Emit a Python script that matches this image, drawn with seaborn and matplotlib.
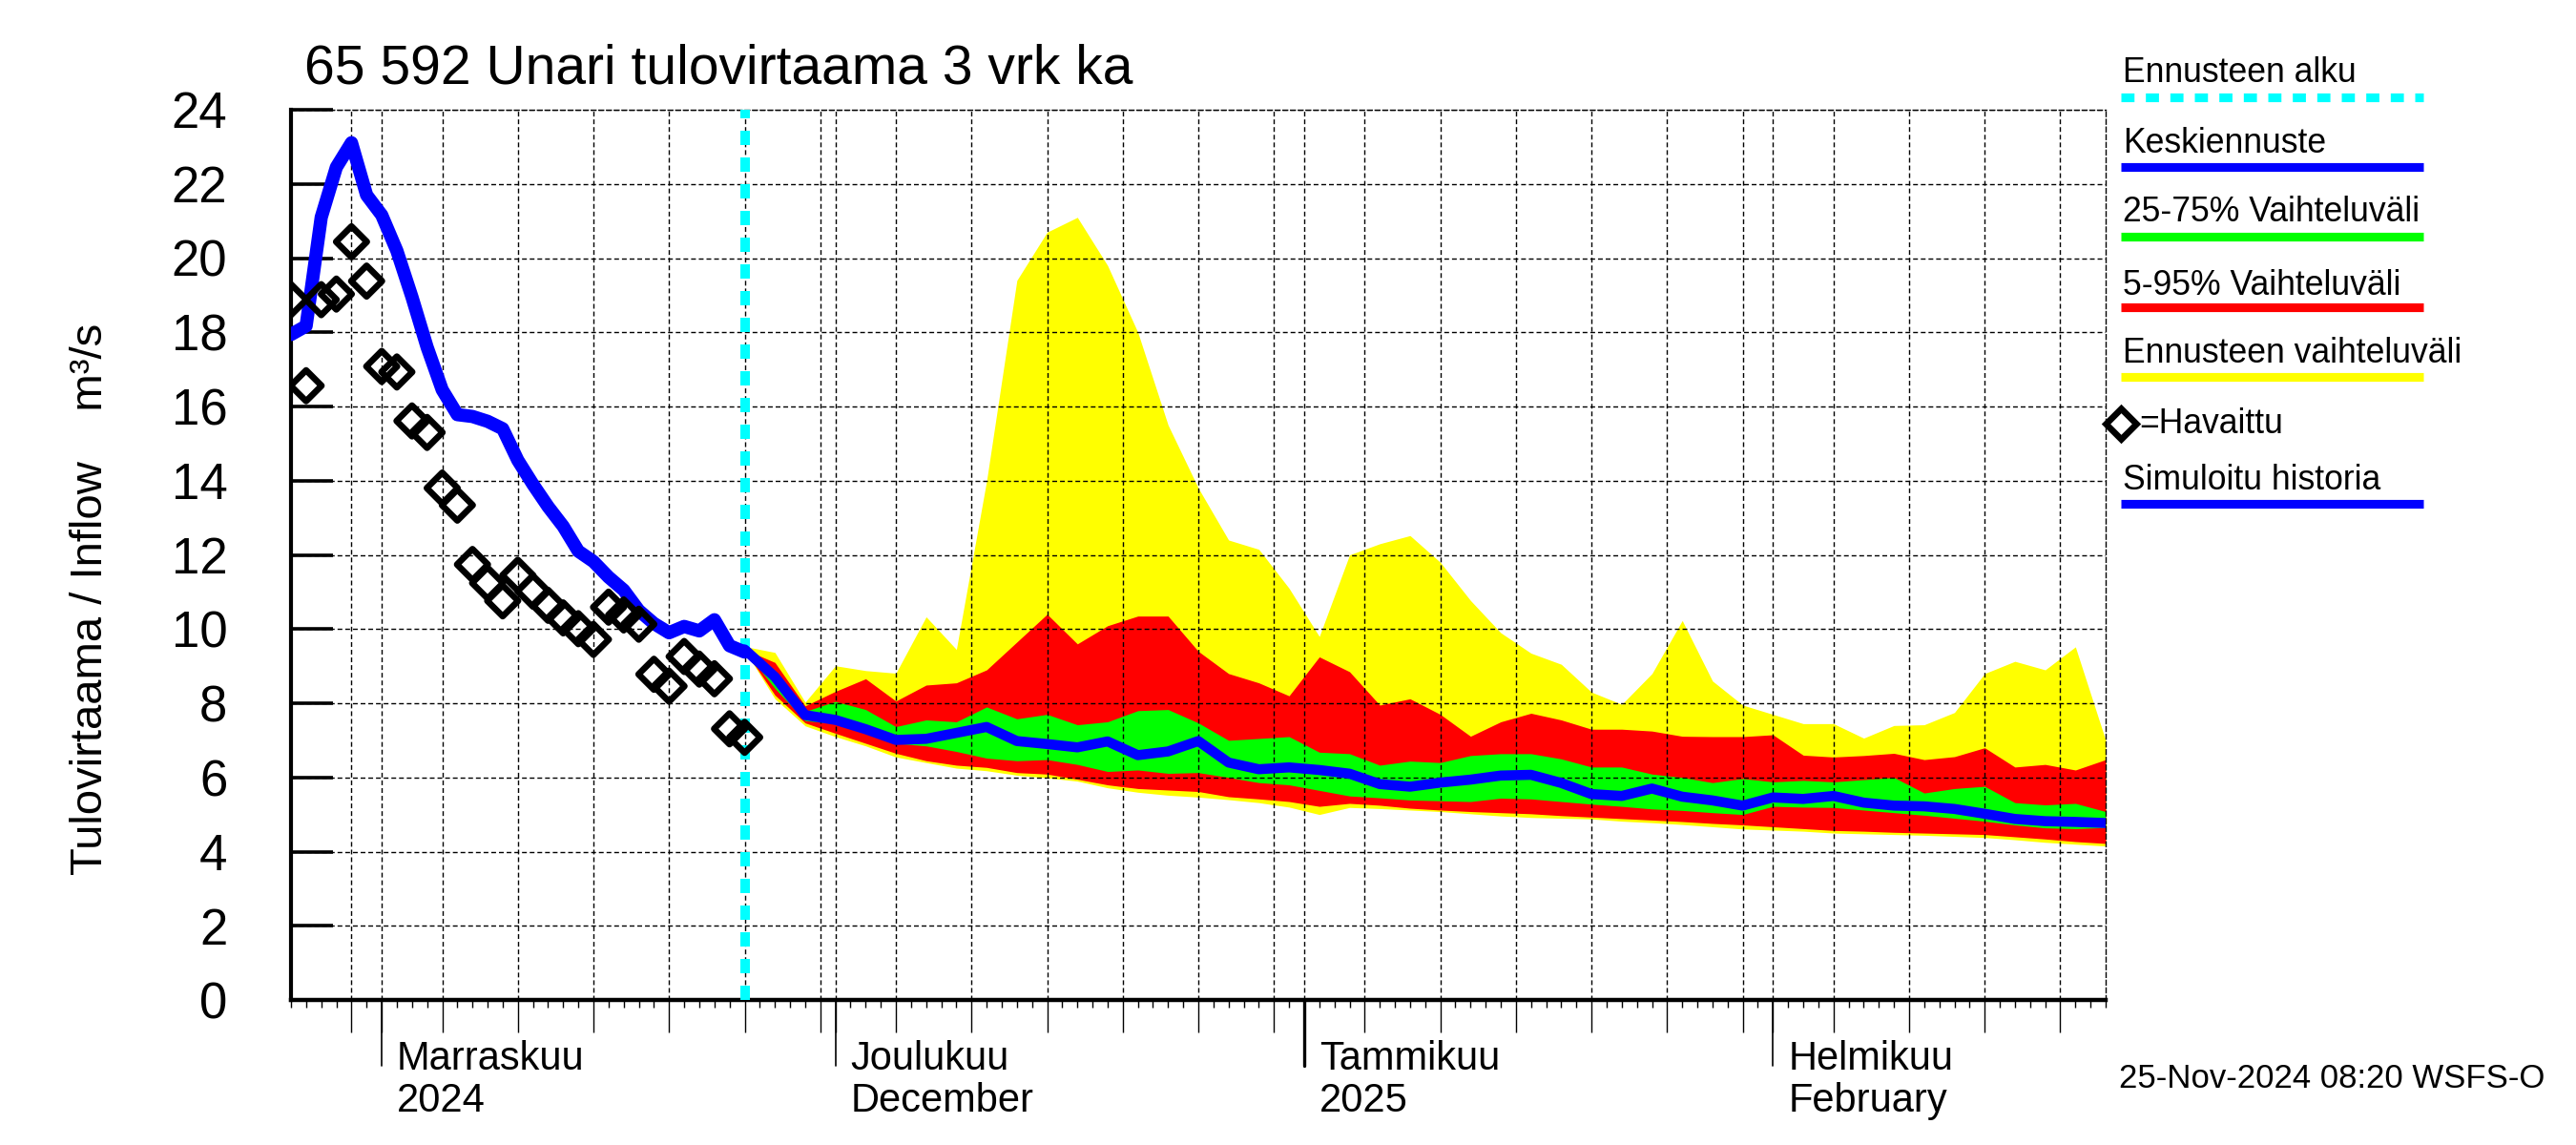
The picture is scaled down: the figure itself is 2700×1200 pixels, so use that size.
import numpy as np
import pandas as pd
import seaborn as sns
import matplotlib
matplotlib.use('Agg')
import matplotlib.pyplot as plt
import matplotlib.dates as mdates
import matplotlib.ticker as mticker
import matplotlib.transforms as mtransforms

# Havainnot ja simuloitu historia (päivittäin 26.10.2024 - 25.11.2024)
hist_alku = '2024-10-26'
havaittu = [18.88, 16.56, 18.88, 19.03, 20.44, 19.38, 17.08, 16.93, 15.61, 15.30,
            13.80, 13.34, 11.74, 11.24, 10.76, 11.45, 11.02, 10.64, 10.30, 10.01,
            9.72, 10.59, 10.38, 10.13, 8.78, 8.46, 9.26, 8.92, 8.66, 7.31, 7.08]
simuloitu = [17.94, 18.17, 21.1, 22.45, 23.11, 21.7, 21.16, 20.2, 18.95, 17.6,
             16.45, 15.78, 15.73, 15.6, 15.4, 14.55, 13.9, 13.3, 12.77, 12.1,
             11.82, 11.4, 11.05, 10.5, 10.15, 9.9, 10.07, 9.95, 10.25, 9.55, 9.38]

# Ennuste (2 vrk välein 25.11.2024 alkaen)
ennuste_alku = '2024-11-25'
keskiennuste = [9.45, 8.71, 7.68, 7.55, 7.30, 7.01, 7.04, 7.20, 7.36, 6.98,
                6.90, 6.81, 6.97, 6.60, 6.70, 6.98, 6.40, 6.22, 6.27, 6.20,
                6.10, 5.82, 5.75, 5.86, 5.94, 6.05, 6.07, 5.85, 5.55, 5.50,
                5.70, 5.48, 5.38, 5.24, 5.46, 5.42, 5.50, 5.32, 5.24, 5.22,
                5.15, 5.02, 4.88, 4.82, 4.80, 4.77]
p75 = [9.47, 8.80, 7.78, 8.05, 7.83, 7.37, 7.55, 7.50, 7.90, 7.58,
       7.70, 7.42, 7.50, 7.80, 7.83, 7.47, 7.00, 7.05, 7.10, 6.68,
       6.64, 6.33, 6.44, 6.40, 6.59, 6.64, 6.64, 6.50, 6.28, 6.28,
       6.09, 6.00, 5.86, 5.97, 5.88, 5.92, 5.88, 5.94, 6.00, 5.58,
       5.70, 5.76, 5.32, 5.26, 5.30, 5.08]
p25 = [9.43, 8.40, 7.53, 7.45, 7.25, 6.92, 6.85, 6.70, 6.52, 6.45,
       6.48, 6.35, 6.16, 6.20, 6.11, 6.13, 6.00, 5.86, 5.80, 5.65,
       5.50, 5.45, 5.39, 5.37, 5.35, 5.44, 5.42, 5.35, 5.28, 5.22,
       5.15, 5.11, 5.05, 5.00, 5.22, 5.20, 5.19, 5.12, 5.05, 4.98,
       4.90, 4.82, 4.72, 4.64, 4.62, 4.65]
p95 = [9.45, 9.10, 7.93, 8.32, 8.66, 8.06, 8.49, 8.55, 8.90, 9.65,
       10.40, 9.60, 10.09, 10.35, 10.35, 9.40, 8.80, 8.55, 8.20, 9.25,
       8.85, 7.95, 8.12, 7.70, 7.11, 7.50, 7.73, 7.55, 7.30, 7.30,
       7.25, 7.11, 7.10, 7.10, 7.15, 6.60, 6.55, 6.59, 6.65, 6.48,
       6.56, 6.80, 6.28, 6.35, 6.20, 6.48]
p5 = [9.43, 8.22, 7.47, 7.19, 6.92, 6.65, 6.45, 6.33, 6.27, 6.13,
      6.09, 5.95, 5.80, 5.70, 5.66, 5.62, 5.48, 5.42, 5.35, 5.22,
      5.30, 5.25, 5.17, 5.12, 5.08, 5.05, 5.02, 4.97, 4.93, 4.89,
      4.85, 4.81, 4.76, 4.72, 4.67, 4.62, 4.57, 4.55, 4.52, 4.50,
      4.48, 4.46, 4.40, 4.34, 4.27, 4.22]
ennuste_max = [9.53, 9.37, 8.03, 9.01, 8.88, 8.81, 10.33, 9.45, 14.0, 19.4,
               20.7, 21.1, 19.8, 18.0, 15.5, 13.8, 12.4, 12.15, 11.1, 9.8,
               12.0, 12.3, 12.52, 11.8, 10.77, 9.9, 9.35, 9.05, 8.3, 7.97,
               8.8, 10.23, 8.6, 7.95, 7.70, 7.45, 7.45, 7.06, 7.40, 7.42,
               7.75, 8.80, 9.13, 8.90, 9.52, 7.00]
ennuste_min = [9.43, 8.12, 7.39, 7.10, 6.85, 6.55, 6.40, 6.25, 6.18, 6.06,
               5.99, 5.90, 5.72, 5.60, 5.52, 5.47, 5.40, 5.32, 5.20, 5.00,
               5.19, 5.16, 5.12, 5.08, 5.02, 4.96, 4.92, 4.90, 4.88, 4.82,
               4.78, 4.73, 4.67, 4.61, 4.58, 4.55, 4.50, 4.48, 4.46, 4.44,
               4.41, 4.38, 4.32, 4.25, 4.20, 4.15]

kuukaudet = ['2024-11-01', '2024-12-01', '2025-01-01', '2025-02-01']
kk_rivi1 = ['Marraskuu', 'Joulukuu', 'Tammikuu', 'Helmikuu']
kk_rivi2 = ['2024', 'December', '2025', 'February']

legend_tekstit = ['Ennusteen alku', 'Keskiennuste', '25-75% Vaihteluväli',
                  '5-95% Vaihteluväli', 'Ennusteen vaihteluväli', '=Havaittu',
                  'Simuloitu historia']

hist_pvm = pd.date_range(hist_alku, periods=len(havaittu), freq='D')
ennuste_pvm = pd.date_range(ennuste_alku, periods=len(keskiennuste), freq='2D')

sns.set_theme(style='white')
plt.rcParams['font.family'] = ['Liberation Sans', 'DejaVu Sans']
for k in ['text.color', 'axes.labelcolor', 'xtick.color', 'ytick.color', 'axes.edgecolor']:
    plt.rcParams[k] = 'black'

SININEN = '#0000ff'
KELTAINEN = '#ffff00'
PUNAINEN = '#ff0000'
VIHREA = '#00ff00'
SYAANI = '#00ffff'

fig = plt.figure(figsize=(13.5, 6), dpi=200)
fig.patch.set_facecolor('white')
ax = fig.add_axes([305 / 2700, 1 - 1048 / 1200, (2207 - 305) / 2700, (1048 - 115) / 1200])
ax.set_facecolor('white')

# Vaihteluvälit
ax.fill_between(ennuste_pvm, ennuste_min, ennuste_max, color=KELTAINEN, lw=0, zorder=1)
ax.fill_between(ennuste_pvm, p5, p95, color=PUNAINEN, lw=0, zorder=1.1)
ax.fill_between(ennuste_pvm, p25, p75, color=VIHREA, lw=0, zorder=1.2)

# Ennusteen alku
ax.axvline(pd.Timestamp(ennuste_alku), color=SYAANI, lw=3.6, ls=(0, (1.5, 1.3)), zorder=3)

# Viivat
sns.lineplot(x=hist_pvm, y=simuloitu, ax=ax, color=SININEN, lw=5.0, zorder=3.2)
sns.lineplot(x=ennuste_pvm, y=keskiennuste, ax=ax, color=SININEN, lw=3.8, zorder=3.2)

# Havainnot
sns.scatterplot(x=hist_pvm, y=havaittu, ax=ax, marker='D', s=68, linewidth=2.4,
                edgecolor='black', zorder=4)
ax.collections[-1].set_facecolor('none')
ax.collections[-1].set_edgecolor('black')

# Akselit
ax.set_xlim(pd.Timestamp('2024-10-26'), pd.Timestamp('2025-02-23'))
ax.set_ylim(0, 24)
ax.set_yticks(range(0, 25, 2))
ax.set_xlabel('')
ax.set_ylabel('')
ax.xaxis.set_major_locator(mdates.DayLocator(bymonthday=[1, 5, 10, 15, 20, 25, 30]))
ax.xaxis.set_minor_locator(mdates.DayLocator())
ax.xaxis.set_major_formatter(mticker.NullFormatter())
ax.tick_params(axis='y', direction='in', length=16, width=1.3, labelsize=19, pad=24,
               colors='black', left=True)
ax.tick_params(axis='x', which='major', direction='out', length=12.2, width=0.5,
               colors='black', bottom=True)
ax.tick_params(axis='x', which='minor', direction='out', length=2.9, width=0.5,
               colors='black', bottom=True)
ax.set_axisbelow(False)
ax.grid(True, which='major', axis='both', color='black', lw=0.5, ls=(0, (3.6, 2.2)))

for s in ['top', 'right']:
    ax.spines[s].set_linestyle((0, (3.6, 2.2)))
    ax.spines[s].set_linewidth(0.5)
ax.spines['left'].set_linewidth(1.5)
ax.spines['bottom'].set_linewidth(1.6)

# Kuukausien merkinnät
sekoitus = mtransforms.blended_transform_factory(ax.transData, ax.transAxes)
for kk, r1, r2 in zip(kuukaudet, kk_rivi1, kk_rivi2):
    t = pd.Timestamp(kk)
    leveys = 1.2 if kk.endswith('01-01') else 0.6
    ax.plot([t, t], [0, -0.074], transform=sekoitus, clip_on=False, color='black', lw=leveys)
    ax.text(t + pd.Timedelta(days=1), -0.078, r1, transform=sekoitus, fontsize=15,
            va='baseline', ha='left')
    ax.text(t + pd.Timedelta(days=1), -0.1254, r2, transform=sekoitus, fontsize=15,
            va='baseline', ha='left')

# Tekstit ja selite pikselikoordinaateissa
lax = fig.add_axes([0, 0, 1, 1])
lax.set_xlim(0, 2700)
lax.set_ylim(1200, 0)
lax.axis('off')
lax.patch.set_alpha(0)

lax.text(319, 87, '65 592 Unari tulovirtaama 3 vrk ka', fontsize=20.5, va='baseline', ha='left')
lax.text(95, 628, 'Tulovirtaama / Inflow    m³/s', rotation=90, fontsize=17,
         va='center', ha='center')
lax.text(2221, 1130, '25-Nov-2024 08:20 WSFS-O', fontsize=12.5, va='center', ha='left')

x0, x1 = 2223, 2540
tekstit_y = [86, 160, 232, 309, 380, 444, 513]
viivat = [(102, SYAANI, (0, (1.5, 1.3))), (175, SININEN, '-'), (248, VIHREA, '-'),
          (322, PUNAINEN, '-'), (395, KELTAINEN, '-'), (None, None, None),
          (528, SININEN, '-')]
for teksti, ty, (ly, vari, tyyli) in zip(legend_tekstit, tekstit_y, viivat):
    if ly is None:
        lax.plot([2223], [ty], marker='D', ms=8.0, mfc='none', mec='black', mew=2.4)
        lax.text(2242, ty, teksti, fontsize=12.8, va='center', ha='left')
    else:
        lax.text(2225, ty, teksti, fontsize=12.8, va='baseline', ha='left')
        lax.plot([x0, x1], [ly, ly], color=vari, lw=3.3, ls=tyyli, solid_capstyle='butt')

fig.savefig('out.png', dpi=200)
